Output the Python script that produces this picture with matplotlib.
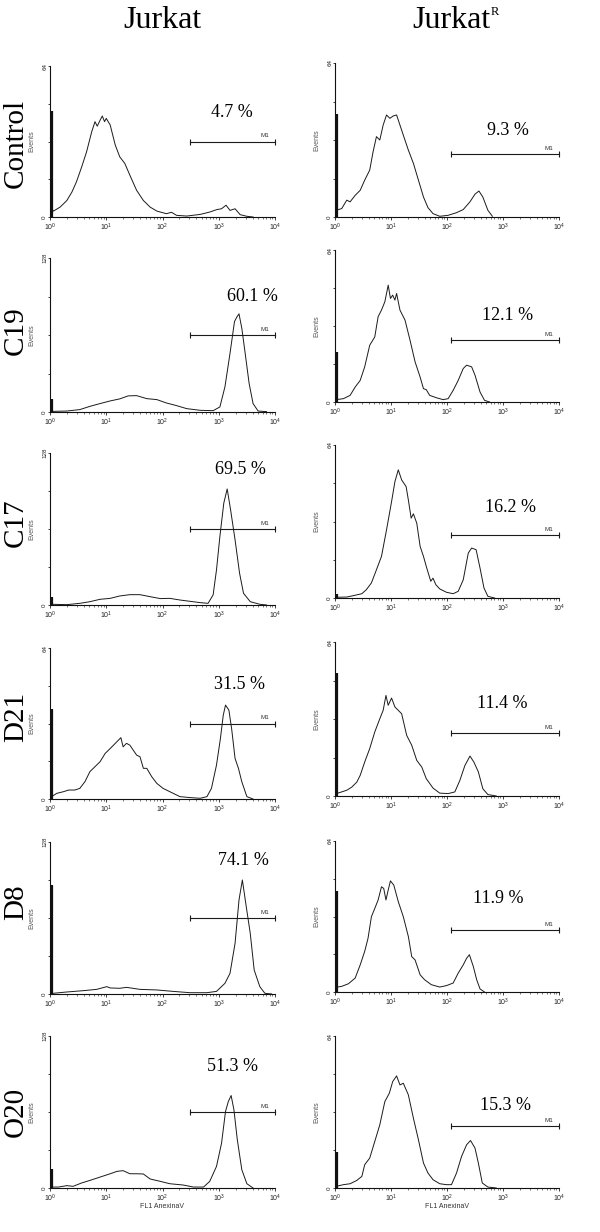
import matplotlib
matplotlib.use('Agg')
import matplotlib.pyplot as plt
import numpy as np

plt.rcParams['font.family'] = ['Liberation Sans', 'DejaVu Sans']
plt.rcParams['mathtext.fontset'] = 'custom'
plt.rcParams['mathtext.rm'] = 'Liberation Sans'
plt.rcParams['mathtext.it'] = 'Liberation Sans'

# ---------------- DATA (x in decades of FL1, y in events) ----------------
ROWS = ['Control', 'C19', 'C17', 'D21', 'D8', 'O20']

# Jurkat (left column)
jk_control_x = [0.03, 0.06, 0.18, 0.3, 0.39, 0.47, 0.56, 0.65, 0.74, 0.8, 0.84, 0.89, 0.93, 0.97, 1.0, 1.07,
                1.16, 1.24, 1.33, 1.42, 1.54, 1.66, 1.78, 1.9, 2.07, 2.16, 2.25, 2.43, 2.67, 2.84, 2.96, 3.05,
                3.13, 3.2, 3.29, 3.38, 3.5, 3.61]
jk_control_y = [3.5, 2.5, 4.2, 7, 10.6, 14.9, 21, 27.6, 36, 40.4, 38.5, 41, 42.8, 40.4, 41.8, 39,
                30.5, 25.5, 22.7, 17.7, 11.3, 7, 4.2, 2.5, 1.4, 2, 0.7, 0.4, 1.1, 2.1, 3.1, 3.5,
                5, 2.8, 3.5, 1, 0.3, 0]
jk_c19_x = [0.03, 0.3, 0.53, 0.71, 0.89, 1.07, 1.24, 1.39, 1.54, 1.72, 1.9, 2.07, 2.25, 2.43, 2.67, 2.9,
            3.02, 3.11, 3.2, 3.28, 3.32, 3.36, 3.41, 3.47, 3.54, 3.61, 3.7, 3.85]
jk_c19_y = [0.5, 0.8, 2, 4.7, 7, 9.2, 10.9, 13.4, 13.6, 11.1, 10.3, 7.5, 5.3, 2.8, 1.4, 1.1,
            4.2, 20.9, 48.7, 75.2, 78.8, 81.6, 69.6, 48.7, 23.7, 7, 0.8, 0.3]
jk_c17_x = [0.03, 0.3, 0.53, 0.71, 0.89, 1.07, 1.24, 1.42, 1.6, 1.78, 1.96, 2.13, 2.31, 2.49, 2.67, 2.81,
            2.9, 2.96, 3.02, 3.09, 3.15, 3.21, 3.29, 3.37, 3.44, 3.56, 3.73, 3.85]
jk_c17_y = [0.6, 0.3, 1.4, 2.8, 4.8, 5.6, 7.6, 8.7, 8.7, 7, 5.4, 5.6, 4.2, 3.1, 2, 1.4,
            8.5, 29.6, 57.7, 85.9, 97.7, 80.3, 54.9, 26.8, 9.9, 2.8, 0.6, 0]
jk_d21_x = [0.03, 0.12, 0.24, 0.33, 0.44, 0.53, 0.62, 0.71, 0.8, 0.89, 0.98, 1.07, 1.19, 1.26, 1.3, 1.36,
            1.42, 1.48, 1.54, 1.6, 1.66, 1.72, 1.81, 1.9, 2.01, 2.13, 2.31, 2.49, 2.67, 2.79, 2.87, 2.96,
            3.03, 3.08, 3.12, 3.18, 3.23, 3.29, 3.35, 3.41, 3.5, 3.61]
jk_d21_y = [1, 2.4, 3.1, 3.8, 3.8, 4.5, 7.3, 11.6, 13.7, 15.8, 19.3, 21.4, 24.3, 26, 22.1, 23.6,
            22.8, 20.7, 18.6, 17.9, 13, 13, 9.4, 6.6, 4.5, 3.1, 1, 0.6, 0.3, 1, 4.5, 14.4,
            25.7, 35.5, 39.8, 37.7, 29.6, 17.2, 13, 7.3, 1, 0]
jk_d8_x = [0.06, 0.3, 0.59, 0.83, 1.01, 1.07, 1.24, 1.36, 1.6, 1.9, 2.19, 2.49, 2.79, 2.96, 3.11, 3.2,
           3.29, 3.36, 3.42, 3.48, 3.56, 3.63, 3.73, 3.82, 3.94]
jk_d8_y = [0.6, 1.7, 2.8, 3.9, 6.2, 5.1, 4.8, 5.6, 3.9, 3.4, 2.2, 1.1, 1.1, 2.2, 9, 17.4,
           42.7, 79.2, 96, 76.4, 51.1, 20.2, 6.2, 0.6, 0]
jk_o20_x = [0.03, 0.15, 0.3, 0.41, 0.56, 0.71, 0.89, 1.07, 1.19, 1.3, 1.42, 1.54, 1.66, 1.78, 1.96, 2.13,
            2.37, 2.55, 2.73, 2.84, 2.96, 3.05, 3.12, 3.17, 3.22, 3.27, 3.33, 3.41, 3.5, 3.61]
jk_o20_y = [0.8, 0.8, 2, 1.4, 4.2, 6.4, 9.2, 12, 14, 14.6, 12, 12, 11.8, 7.6, 5.6, 3.6,
            2.5, 0.8, 0.8, 5.6, 18.2, 37.8, 64.4, 72.8, 77.9, 65.8, 40.6, 15.4, 3.6, 0]

# Jurkat R (right column)
jr_control_x = [0.02, 0.12, 0.21, 0.27, 0.36, 0.45, 0.53, 0.62, 0.68, 0.74, 0.8, 0.86, 0.92, 0.98, 1.04, 1.1,
                1.16, 1.22, 1.31, 1.4, 1.49, 1.58, 1.66, 1.75, 1.87, 2.02, 2.17, 2.29, 2.41, 2.5, 2.57, 2.64,
                2.73, 2.81]
jr_control_y = [2.8, 3.5, 7, 6.3, 9, 11.1, 15.3, 19.5, 27.1, 33.4, 32, 38.2, 42.4, 41, 42, 42.4,
                38.2, 34, 27.8, 22.3, 15.3, 8.3, 3.9, 1.4, 0.3, 0.7, 1.8, 3.1, 6.3, 9.5, 10.8, 8.3,
                2.8, 0.3]
jr_c19_x = [0.02, 0.15, 0.27, 0.36, 0.45, 0.53, 0.62, 0.71, 0.77, 0.83, 0.89, 0.95, 0.99, 1.03, 1.07, 1.1,
            1.16, 1.25, 1.34, 1.43, 1.52, 1.58, 1.63, 1.69, 1.81, 1.93, 2.02, 2.11, 2.2, 2.29, 2.35, 2.44,
            2.5, 2.59, 2.67, 2.76]
jr_c19_y = [1, 1.4, 2.8, 6.3, 9.1, 14.8, 23.9, 27.4, 35.9, 38.7, 42.2, 49.2, 43.6, 45, 42.9, 45.7,
            38.7, 34.5, 26, 16.9, 10.5, 5.6, 5.2, 2.8, 1.8, 1, 1.4, 4.9, 9.1, 14.1, 15.5, 14.8,
            11.3, 4.2, 0.7, 0]
jr_c17_x = [0.02, 0.21, 0.33, 0.48, 0.56, 0.65, 0.74, 0.83, 0.92, 1.01, 1.07, 1.13, 1.19, 1.27, 1.31, 1.36,
            1.4, 1.46, 1.52, 1.58, 1.63, 1.71, 1.75, 1.8, 1.87, 1.99, 2.11, 2.2, 2.29, 2.38, 2.44, 2.52,
            2.59, 2.66, 2.73, 2.85]
jr_c17_y = [0.3, 0.4, 1, 1.8, 3.5, 6.3, 11.8, 17.4, 28.5, 40.3, 48.7, 53.6, 49.4, 46.6, 41, 33.4,
            35.2, 31.3, 21.6, 17.4, 13.2, 7, 8.3, 5.6, 3.8, 2.4, 1.8, 2.8, 7.6, 18.8, 20.9, 20.2,
            12.5, 4.2, 0.7, 0]
jr_d21_x = [0.02, 0.12, 0.21, 0.3, 0.39, 0.45, 0.53, 0.62, 0.71, 0.8, 0.86, 0.91, 0.95, 1.01, 1.07, 1.13,
            1.19, 1.28, 1.37, 1.46, 1.55, 1.63, 1.75, 1.87, 2.02, 2.14, 2.23, 2.32, 2.41, 2.48, 2.56, 2.64,
            2.73, 2.88]
jr_d21_y = [1, 1.7, 2.4, 3.7, 5.8, 8.6, 14.1, 19.7, 26.6, 32.1, 35.6, 41.8, 37.7, 40.7, 37, 35.6,
            34.2, 25.2, 21.1, 14.8, 12, 7.2, 3.3, 1.2, 1, 1.7, 6.5, 12.7, 16.6, 14.1, 10, 3,
            0.6, 0]
jr_d8_x = [0.02, 0.12, 0.24, 0.36, 0.45, 0.53, 0.59, 0.65, 0.71, 0.77, 0.83, 0.87, 0.91, 0.95, 0.99, 1.05,
           1.13, 1.22, 1.31, 1.37, 1.43, 1.52, 1.6, 1.72, 1.87, 1.99, 2.11, 2.2, 2.29, 2.35, 2.4, 2.47,
           2.53, 2.59, 2.67]
jr_d8_y = [2, 2.4, 3.5, 5.9, 11.5, 17.2, 22.8, 31.9, 35.4, 39, 44.6, 43.9, 39, 43.2, 47.1, 45.3,
           38.3, 31.9, 23.5, 15, 13.6, 7.3, 5.2, 3.1, 2.1, 2.7, 3.8, 8, 11.5, 14.3, 15.8, 10.8,
           5.2, 1.3, 0]
jr_o20_x = [0.02, 0.15, 0.27, 0.39, 0.48, 0.53, 0.62, 0.71, 0.8, 0.89, 0.97, 1.03, 1.1, 1.16, 1.22, 1.31,
            1.4, 1.49, 1.58, 1.66, 1.75, 1.87, 1.99, 2.08, 2.17, 2.26, 2.35, 2.42, 2.5, 2.56, 2.63, 2.73,
            2.88]
jr_o20_y = [0.7, 1.4, 1.8, 3.2, 4.9, 9.8, 12.6, 19.6, 26.6, 36.4, 39.9, 44.8, 47.2, 43.4, 44.1, 39.2,
            29.4, 20.3, 10.5, 6.3, 3.5, 1.8, 1.4, 1.4, 6.3, 13.3, 18.2, 20, 16.8, 10.5, 2.1, 0.4,
            0]

left_curves = [(jk_control_x, jk_control_y), (jk_c19_x, jk_c19_y), (jk_c17_x, jk_c17_y),
               (jk_d21_x, jk_d21_y), (jk_d8_x, jk_d8_y), (jk_o20_x, jk_o20_y)]
right_curves = [(jr_control_x, jr_control_y), (jr_c19_x, jr_c19_y), (jr_c17_x, jr_c17_y),
                (jr_d21_x, jr_d21_y), (jr_d8_x, jr_d8_y), (jr_o20_x, jr_o20_y)]

left_ymax = [64, 128, 128, 64, 128, 128]
right_ymax = [64, 64, 64, 64, 64, 64]
left_spike = [45, 11, 7, 38, 92, 16]
right_spike = [43, 21, 1.5, 51, 43, 15]
left_pct = ['4.7 %', '60.1 %', '69.5 %', '31.5 %', '74.1 %', '51.3 %']
right_pct = ['9.3 %', '12.1 %', '16.2 %', '11.4 %', '11.9 %', '15.3 %']
left_gate = [309, 1e4]
right_gate = [120, 1e4]

# ---------------- LAYOUT (pixels) ----------------
W, H = 600, 1232
LEFT_X = (50, 275)
RIGHT_X = (335, 559)
LEFT_Y = [(66, 217), (258, 412), (453, 605), (648, 799), (842, 994), (1036, 1188)]
RIGHT_Y = [(63, 217), (250, 402), (445, 598), (642, 796), (841, 992), (1036, 1188)]
LEFT_PCT_POS = [(0.81, 0.69), (0.90, 0.75), (0.845, 0.89), (0.84, 0.76), (0.86, 0.88), (0.81, 0.80)]
RIGHT_PCT_POS = [(0.77, 0.56), (0.77, 0.57), (0.785, 0.59), (0.745, 0.60), (0.73, 0.62), (0.76, 0.54)]
ROW_LABEL_Y = [143, 331, 523, 717, 902, 1112]

fig = plt.figure(figsize=(W / 100, H / 100), dpi=100)
SERIF = ['Liberation Serif', 'DejaVu Serif']
LINE = '#1a1a1a'


def px_box(xr, yr):
    return [xr[0] / W, 1 - yr[1] / H, (xr[1] - xr[0]) / W, (yr[1] - yr[0]) / H]


def draw_panel(box, curve, ymax, spike, pct, pct_pos, gate, gate_frac, bottom):
    ax = fig.add_axes(box)
    ax.set_xscale('log')
    ax.set_xlim(1, 1e4)
    ax.set_ylim(0, ymax)
    xs = 10 ** np.array(curve[0])
    ax.plot(xs, curve[1], color=LINE, lw=0.7)
    # first-channel pile-up next to the axis
    ax.vlines(1.07, 0, spike, color='#111111', lw=1.6, zorder=3)
    for s in ['top', 'right']:
        ax.spines[s].set_visible(False)
    for s in ['left', 'bottom']:
        ax.spines[s].set_linewidth(0.8)
        ax.spines[s].set_color('#111111')
    ax.set_xticks([1, 10, 100, 1000, 10000])
    ax.set_xticklabels(['$10^{0}$', '$10^{1}$', '$10^{2}$', '$10^{3}$', '$10^{4}$'])
    ax.tick_params(axis='x', which='major', length=2.5, width=0.6, pad=1, labelsize=5, colors='#222222')
    ax.tick_params(axis='x', which='minor', length=1.5, width=0.5, colors='#444444')
    ax.set_yticks([0, ymax / 4, ymax / 2, 3 * ymax / 4, ymax])
    ax.set_yticklabels(['0', '', '', '', str(ymax)], rotation=90, va='center')
    ax.tick_params(axis='y', length=1.5, width=0.6, pad=0.5, labelsize=4.5, colors='#222222')
    ax.set_ylabel('Events', fontsize=5, color='#555555')
    ax.yaxis.set_label_coords(-0.067, 0.5)
    # M1 marker
    gy = gate_frac * ymax
    ax.plot(gate, [gy, gy], color=LINE, lw=0.8, marker='|', markersize=4, markeredgewidth=0.8, clip_on=False)
    ax.text(gate[1] * 0.66, gy + ymax * 0.02, 'M1', fontsize=4.5, color='#333333', ha='center', va='bottom')
    ax.text(pct_pos[0], pct_pos[1], pct, transform=ax.transAxes, fontsize=13, family=SERIF,
            ha='center', va='center', color='black')
    if bottom:
        ax.set_xlabel('FL1 AnexinaV', fontsize=5, color='#333333')
        ax.xaxis.set_label_coords(0.5, -0.1)
    return ax


for i in range(6):
    draw_panel(px_box(LEFT_X, LEFT_Y[i]), left_curves[i], left_ymax[i], left_spike[i], left_pct[i],
               LEFT_PCT_POS[i], left_gate, 0.5, i == 5)
    draw_panel(px_box(RIGHT_X, RIGHT_Y[i]), right_curves[i], right_ymax[i], right_spike[i], right_pct[i],
               RIGHT_PCT_POS[i], right_gate, 0.41, i == 5)
    fig.text(23 / W, 1 - ROW_LABEL_Y[i] / H, ROWS[i], rotation=90, rotation_mode='anchor',
             ha='center', va='baseline', fontsize=21, family=SERIF)

# column titles
fig.text(162.5 / W, 1 - 28 / H, 'Jurkat', ha='center', va='baseline', fontsize=23, family=SERIF)
fig.text(451.5 / W, 1 - 28 / H, 'Jurkat', ha='center', va='baseline', fontsize=23, family=SERIF)
fig.text(491 / W, 1 - 6 / H, 'R', ha='left', va='top', fontsize=9, family=SERIF)

fig.savefig('out.png', dpi=100)
